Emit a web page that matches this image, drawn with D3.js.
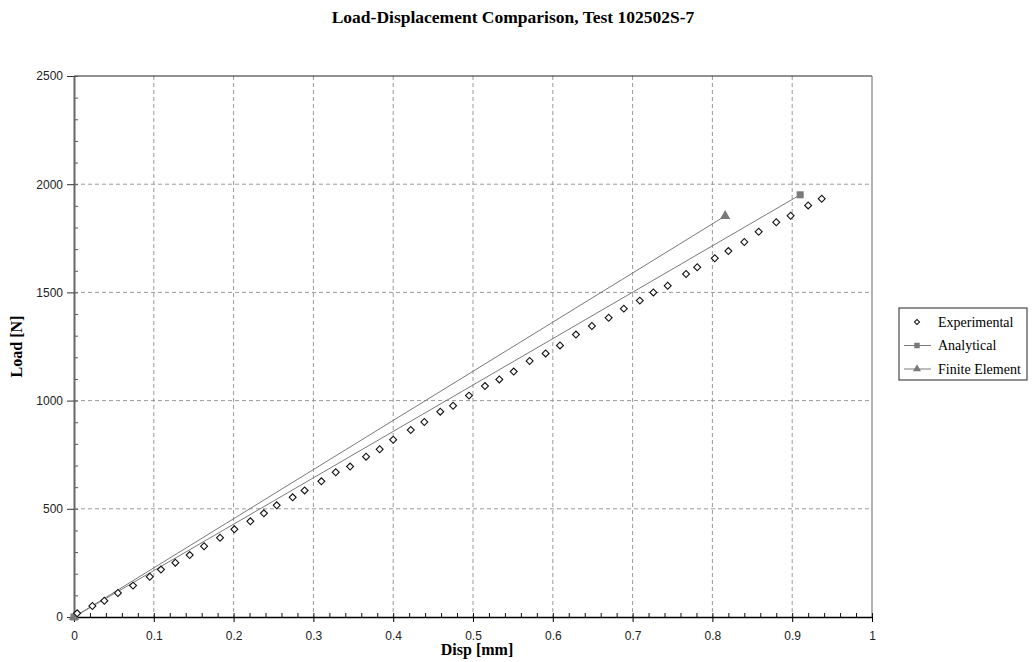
<!DOCTYPE html>
<html>
<head>
<meta charset="utf-8">
<script src="https://cdn.jsdelivr.net/npm/d3@7"></script>
<style>
  body { margin: 0; background: #fff; }
  svg { display: block; }
  .tick text { font-family: "Liberation Sans", sans-serif; font-size: 12px; fill: #222; }
</style>
</head>
<body>
<div id="chart"></div>
<script>
// experimental readings, disp [mm] / load [N]
const expDisp = [0.004, 0.023, 0.038, 0.055, 0.074, 0.095, 0.109, 0.127, 0.145, 0.163, 0.183, 0.201, 0.221, 0.238,
  0.254, 0.274, 0.289, 0.310, 0.328, 0.346, 0.366, 0.383, 0.400, 0.422, 0.439, 0.459, 0.475, 0.495,
  0.515, 0.533, 0.551, 0.571, 0.591, 0.609, 0.629, 0.649, 0.670, 0.689, 0.709,
  0.726, 0.744, 0.767, 0.781, 0.803, 0.820, 0.840, 0.858, 0.880, 0.898, 0.920, 0.937];
const expLoad = [17, 51, 75, 111, 145, 186, 219, 251, 286, 327, 366, 405, 442, 479,
  516, 553, 585, 627, 669, 695, 741, 775, 819, 864, 901, 949, 976, 1023,
  1067, 1098, 1134, 1183, 1218, 1255, 1305, 1345, 1383, 1425, 1462,
  1500, 1531, 1585, 1616, 1658, 1691, 1733, 1780, 1824, 1854, 1902, 1933];

const anaDisp = [0, 0.910];
const anaLoad = [0, 1951];
const feDisp = [0, 0.816];
const feLoad = [0, 1853];

const xTicks = [0, 0.1, 0.2, 0.3, 0.4, 0.5, 0.6, 0.7, 0.8, 0.9, 1];
const yTicks = [0, 500, 1000, 1500, 2000, 2500];
const legendNames = ['Experimental', 'Analytical', 'Finite Element'];

const width = 1034, height = 662;
const plotL = 74, plotR = 872, plotT = 76, plotB = 617;
const gray = '#7a7a7a';

const svg = d3.select('#chart').append('svg')
  .attr('width', width)
  .attr('height', height);

const x = d3.scaleLinear().domain([0, 1]).range([plotL, plotR]);
const y = d3.scaleLinear().domain([0, 2500]).range([plotB, plotT]);

svg.append('text')
  .attr('x', 513).attr('y', 23)
  .attr('text-anchor', 'middle')
  .style('font-family', '"Liberation Serif", serif')
  .style('font-weight', 'bold')
  .style('font-size', '17.5px')
  .text('Load-Displacement Comparison, Test 102502S-7');

// grid
svg.append('g').selectAll('line')
  .data(xTicks.slice(1, -1))
  .join('line')
    .attr('x1', d => x(d)).attr('x2', d => x(d))
    .attr('y1', plotT).attr('y2', plotB)
    .attr('stroke', '#9a9a9a')
    .attr('stroke-dasharray', '4,3');
svg.append('g').selectAll('line')
  .data(yTicks.slice(1, -1))
  .join('line')
    .attr('x1', plotL).attr('x2', plotR)
    .attr('y1', d => y(d)).attr('y2', d => y(d))
    .attr('stroke', '#9a9a9a')
    .attr('stroke-dasharray', '4,3');

// frame top + right
svg.append('line')
  .attr('x1', plotL).attr('x2', plotR).attr('y1', plotT).attr('y2', plotT)
  .attr('stroke', '#222');
svg.append('line')
  .attr('x1', plotR).attr('x2', plotR).attr('y1', plotT).attr('y2', plotB)
  .attr('stroke', '#999').attr('stroke-width', 1.5);

// minor ticks
svg.append('g')
  .attr('transform', `translate(0,${plotB})`)
  .call(d3.axisBottom(x).tickValues(d3.range(0, 51).map(i => i / 50)).tickSize(-4).tickFormat(''))
  .call(g => g.select('.domain').remove())
  .call(g => g.selectAll('line').attr('stroke', '#111'));
svg.append('g')
  .attr('transform', `translate(${plotL},0)`)
  .call(d3.axisLeft(y).tickValues(d3.range(0, 26).map(i => i * 100)).tickSize(-4).tickFormat(''))
  .call(g => g.select('.domain').remove())
  .call(g => g.selectAll('line').attr('stroke', '#555'));

// major axes
svg.append('g')
  .attr('transform', `translate(0,${plotB})`)
  .call(d3.axisBottom(x).tickValues(xTicks).tickSizeInner(5).tickSizeOuter(0).tickPadding(9)
    .tickFormat(d => d3.format('~g')(d)))
  .call(g => g.select('.domain').attr('stroke', '#000').attr('stroke-width', 1.5))
  .call(g => g.selectAll('.tick line').attr('stroke', '#000'));
svg.append('g')
  .attr('transform', `translate(${plotL},0)`)
  .call(d3.axisLeft(y).tickValues(yTicks).tickSizeInner(7).tickSizeOuter(0).tickPadding(4)
    .tickFormat(d3.format('d')))
  .call(g => g.select('.domain').attr('stroke', '#666').attr('stroke-width', 2))
  .call(g => g.selectAll('.tick line').attr('stroke', '#333'));

// axis titles
svg.append('text')
  .attr('x', 477).attr('y', 655)
  .attr('text-anchor', 'middle')
  .style('font-family', '"Liberation Serif", serif')
  .style('font-weight', 'bold')
  .style('font-size', '16px')
  .text('Disp [mm]');
svg.append('text')
  .attr('transform', `translate(22,${(plotT + plotB) / 2}) rotate(-90)`)
  .attr('text-anchor', 'middle')
  .style('font-family', '"Liberation Serif", serif')
  .style('font-weight', 'bold')
  .style('font-size', '16px')
  .text('Load [N]');

// lines
const line = d3.line().x(d => x(d[0])).y(d => y(d[1]));
const anaPts = d3.zip(anaDisp, anaLoad);
const fePts = d3.zip(feDisp, feLoad);
svg.append('path').attr('d', line(anaPts)).attr('fill', 'none').attr('stroke', gray);
svg.append('path').attr('d', line(fePts)).attr('fill', 'none').attr('stroke', gray);

const square = d3.symbol(d3.symbolSquare, 50);
const triangle = d3.symbol(d3.symbolTriangle, 45);
const diamond = d3.symbol(d3.symbolSquare, 24);

svg.append('g').selectAll('path')
  .data(fePts)
  .join('path')
    .attr('d', triangle)
    .attr('transform', d => `translate(${x(d[0])},${y(d[1])})`)
    .attr('fill', gray);
svg.append('g').selectAll('path')
  .data(anaPts)
  .join('path')
    .attr('d', square)
    .attr('transform', d => `translate(${x(d[0])},${y(d[1])})`)
    .attr('fill', gray);

svg.append('g').selectAll('path')
  .data(d3.zip(expDisp, expLoad))
  .join('path')
    .attr('d', diamond)
    .attr('transform', d => `translate(${x(d[0])},${y(d[1])}) rotate(45)`)
    .attr('fill', '#fff')
    .attr('stroke', '#111')
    .attr('stroke-width', 1.1);

// legend
const lg = svg.append('g').attr('transform', 'translate(899,308)');
lg.append('rect')
  .attr('width', 128).attr('height', 72)
  .attr('fill', '#fff').attr('stroke', '#222');
const rows = lg.selectAll('g.row')
  .data(legendNames)
  .join('g')
    .attr('class', 'row')
    .attr('transform', (d, i) => `translate(0,${14 + i * 23.5})`);
rows.filter((d, i) => i > 0).append('line')
  .attr('x1', 5).attr('x2', 32).attr('stroke', gray);
rows.append('path')
  .attr('d', (d, i) => i === 0 ? d3.symbol(d3.symbolSquare, 13)() : i === 1 ? d3.symbol(d3.symbolSquare, 30)() : d3.symbol(d3.symbolTriangle, 28)())
  .attr('transform', (d, i) => i === 0 ? 'translate(18,0) rotate(45)' : 'translate(18,0)')
  .attr('fill', (d, i) => i === 0 ? '#fff' : gray)
  .attr('stroke', (d, i) => i === 0 ? '#111' : 'none');
rows.append('text')
  .attr('x', 39).attr('y', 4.5)
  .style('font-family', '"Liberation Serif", serif')
  .style('font-size', '14px')
  .text(d => d);
</script>
</body>
</html>
